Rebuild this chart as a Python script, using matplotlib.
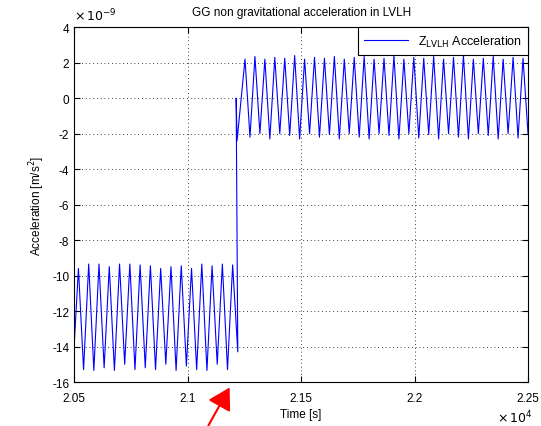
import numpy as np
import matplotlib.pyplot as plt

plt.rcParams['font.family'] = ['Liberation Sans', 'DejaVu Sans']
plt.rcParams['axes.unicode_minus'] = False

# extrema of the signal, in units of 1e-9 m/s^2
# before the jump
seg1_start = [-12.3, -14.0]
seg1_peaks = [-9.6, -9.35, -9.35, -9.5, -9.35, -9.35, -9.4, -9.45,
              -9.6, -9.5, -9.45, -9.6, -9.35, -9.45, -9.35, -9.4]
seg1_troughs = [-15.3, -15.35, -15.2, -15.35, -15.0, -15.3, -15.2, -15.3,
                -15.0, -15.35, -15.1, -15.3, -15.35, -15.0, -15.3, -14.3]
seg1_first_peak = 20519.0
seg1_period = 45.3

# the jump
jump_t = [21214.0, 21218.0]
jump_v = [0.0, -2.4]

# after the jump
seg2_peaks = [2.2, 2.35, 2.2, 2.3, 2.25, 2.4, 2.2, 2.3, 2.25, 2.35,
              2.2, 2.3, 2.35, 2.2, 2.25, 2.4, 2.2, 2.3, 2.25, 2.35,
              2.2, 2.3, 2.4, 2.2, 2.25, 2.35, 2.2, 2.3, 2.25]
seg2_troughs = [-2.2, -2.0, -2.3, -2.0, -2.1, -2.3, -2.0, -2.2, -2.05, -2.3,
                -2.0, -2.2, -2.3, -2.0, -2.1, -2.3, -2.0, -2.25, -2.05, -2.3,
                -2.0, -2.2, -2.3, -2.0, -2.1, -2.3, -2.0, -2.25, -2.0]
seg2_first_peak = 21253.0
seg2_period = 43.75

xticks = [20500, 21000, 21500, 22000, 22500]
xticklabels = ['2.05', '2.1', '2.15', '2.2', '2.25']
yticks = [4, 2, 0, -2, -4, -6, -8, -10, -12, -14, -16]


def interleave(first, period, peaks, troughs):
    tp = first + period * np.arange(len(peaks))
    tt = tp + period / 2
    t = np.empty(len(peaks) * 2)
    v = np.empty(len(peaks) * 2)
    t[0::2], t[1::2] = tp, tt
    v[0::2], v[1::2] = peaks, troughs
    return t, v


t1, v1 = interleave(seg1_first_peak, seg1_period, seg1_peaks, seg1_troughs)
t2, v2 = interleave(seg2_first_peak, seg2_period, seg2_peaks, seg2_troughs)
t2[-1] = 22500.0

time = np.concatenate([[20500.0, 20500.0], t1, jump_t, t2])
acc = np.concatenate([seg1_start, v1, jump_v, v2])

fig = plt.figure(figsize=(5.41, 4.27), dpi=100)
ax = fig.add_axes([0.137, 0.103, 0.839, 0.831])
ax.plot(time, acc, color='b', lw=0.8, label=r'Z$_{\mathrm{LVLH}}$ Acceleration')

ax.set_xlim(20500, 22500)
ax.set_ylim(-16, 4)
ax.set_xticks(xticks)
ax.set_xticklabels(xticklabels)
ax.set_yticks(yticks)
ax.tick_params(direction='in', top=True, right=True, labelsize=8.5, length=4)
ax.tick_params(axis='x', pad=7)
ax.grid(True, color='k', linestyle=(0, (1, 3.5)), lw=0.6)

ax.set_title('GG non gravitational acceleration in LVLH', fontsize=8.5, pad=9)
ax.set_xlabel('Time [s]', fontsize=8.5, labelpad=3)
ax.set_ylabel('Acceleration [m/s$^2$]', fontsize=8.5)
ax.text(0.0, 1.012, r'$\times\,10^{-9}$', transform=ax.transAxes, fontsize=9,
        ha='left', va='bottom')
fig.text(0.985, 1 - 418 / 427, r'$\times\,10^{4}$', fontsize=9,
         ha='right', va='center')

leg = ax.legend(loc='upper right', fontsize=9, fancybox=False,
                edgecolor='k', framealpha=1, borderaxespad=0, handlelength=3.5,
                borderpad=0.5)
leg.get_frame().set_linewidth(0.8)

# red arrow pointing at the jump
fig.add_artist(plt.matplotlib.patches.FancyArrowPatch(
    (207, -2), (231, 41), transform=None, color='red',
    arrowstyle='-|>,head_length=6,head_width=3.5', lw=1.5, mutation_scale=2.2))

fig.savefig('out.png', dpi=100)
